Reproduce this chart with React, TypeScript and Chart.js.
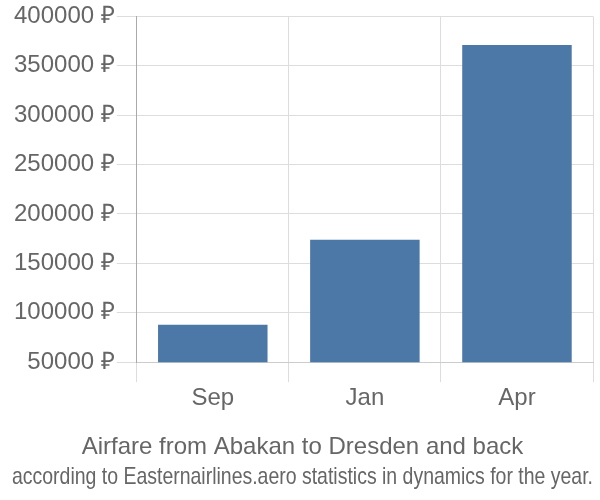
import React, { useEffect, useRef } from "react";
import { Chart, registerables } from "chart.js";

Chart.register(...registerables);

const categories: string[] = ["Sep", "Jan", "Apr"];
const prices: number[] = [88000, 174000, 371000];
const titleLines: string[] = [
  "Airfare from Abakan to Dresden and back",
  "according to Easternairlines.aero statistics in dynamics for the year.",
];

const FONT = "'Liberation Sans', Arial, sans-serif";

export default function App() {
  const ref = useRef<HTMLCanvasElement | null>(null);
  useEffect(() => {
    if (!ref.current) return;
    const chart = new Chart(ref.current, {
      type: "bar",
      data: {
        labels: categories,
        datasets: [
          {
            data: prices,
            backgroundColor: "#4c78a8",
            borderWidth: 0,
          },
        ],
      },
      options: {
        animation: false,
        responsive: true,
        maintainAspectRatio: false,
        layout: { padding: { top: -2, right: 7, left: 12 } },
        plugins: {
          legend: { display: false },
          tooltip: { enabled: false },
          title: {
            display: true,
            position: "bottom",
            text: titleLines,
            color: "#666",
            font: { family: FONT, size: 24, weight: "normal", lineHeight: 1.25 },
            padding: { top: 17, bottom: 8 },
          },
        },
        scales: {
          x: {
            grid: { color: "#dddddd", tickLength: 20, lineWidth: 1 },
            border: { color: "#cccccc" },
            ticks: {
              color: "#666",
              font: { family: FONT, size: 24 },
              padding: 2,
            },
          },
          y: {
            min: 50000,
            max: 400000,
            grid: { color: "#dddddd", tickLength: 20, lineWidth: 1 },
            border: { color: "#aaaaaa" },
            ticks: {
              stepSize: 50000,
              color: "#666",
              font: { family: FONT, size: 24 },
              padding: 2,
              callback: (v: any) => `${v} ₽`,
            },
          },
        },
      },
    });
    return () => chart.destroy();
  }, []);
  return (
    <div style={{ position: "absolute", left: 0, top: 0, width: 600, height: 500 }}>
      <canvas ref={ref} />
    </div>
  );
}
